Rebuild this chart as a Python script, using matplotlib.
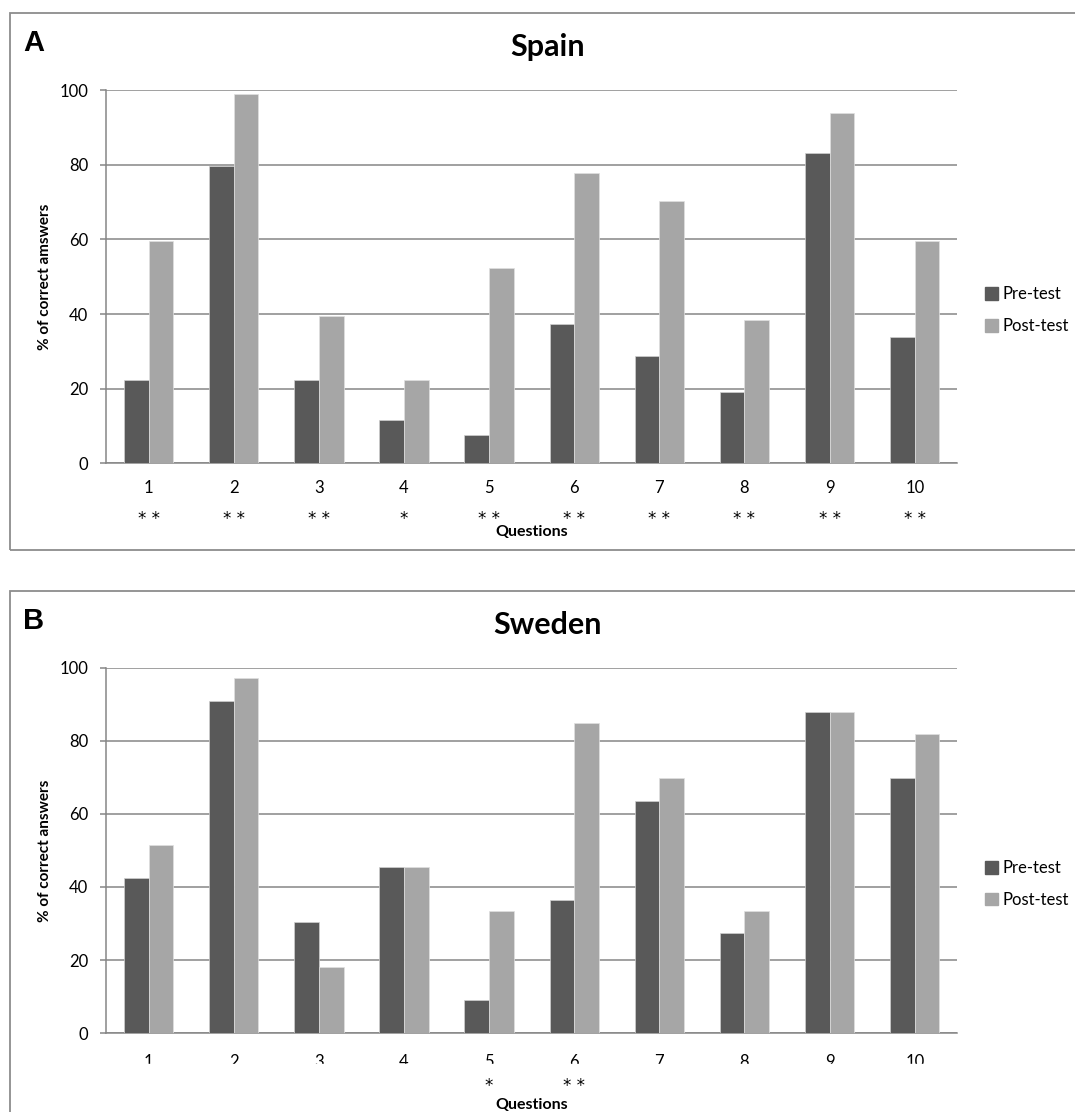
import matplotlib
matplotlib.use('Agg')
import matplotlib.pyplot as plt
from matplotlib.patches import Rectangle, Patch
import numpy as np

# data
questions = ['1', '2', '3', '4', '5', '6', '7', '8', '9', '10']
spain_pre = [22.4, 79.7, 22.4, 11.6, 7.5, 37.2, 28.7, 19.1, 83.0, 33.9]
spain_post = [59.6, 99.0, 39.5, 22.4, 52.2, 77.9, 70.3, 38.4, 93.9, 59.6]
spain_sig = ['**', '**', '**', '*', '**', '**', '**', '**', '**', '**']
sweden_pre = [42.4, 90.9, 30.3, 45.5, 9.1, 36.4, 63.6, 27.3, 87.9, 69.7]
sweden_post = [51.5, 97.0, 18.2, 45.5, 33.3, 84.8, 69.7, 33.3, 87.9, 81.8]
sweden_sig = ['', '', '', '', '*', '**', '', '', '', '']
yticks = [0, 20, 40, 60, 80, 100]

PRE = '#595959'
POST = '#a6a6a6'
GRID = '#868686'
FONT = 'Lato'

W, H = 1075, 1112
fig = plt.figure(figsize=(W / 100, H / 100), dpi=100)


def fx(px):
    return px / W


def fy(py):
    return 1 - py / H


def panel(letter, title, ylabel, pre, post, sig, frame_top, ax_top, ax_bot, lab_off, star_off, q_off):
    # outer frame
    fig.add_artist(Rectangle((fx(10), fy(frame_top + 537)), fx(1085), 537 / H,
                             transform=fig.transFigure, fill=False,
                             edgecolor='#8c8c8c', lw=1.3, zorder=0))
    ax = fig.add_axes([fx(106), fy(ax_bot), fx(957.3) - fx(106), (ax_bot - ax_top) / H])
    x = np.arange(len(questions))
    w = 0.29
    ax.bar(x - w / 2, pre, w, color=PRE, edgecolor='#d0d0d0', lw=0.5, zorder=3)
    ax.bar(x + w / 2, post, w, color=POST, edgecolor='#e0e0e0', lw=0.5, zorder=3)
    ax.set_xlim(-0.5, len(questions) - 0.5)
    ax.set_ylim(0, 100)
    ax.set_yticks(yticks)
    ax.set_yticklabels([str(t) for t in yticks], fontsize=12, family=FONT)
    ax.grid(axis='y', color=GRID, lw=1.1, zorder=0)
    ax.set_axisbelow(True)
    for s in ['top', 'right']:
        ax.spines[s].set_visible(False)
    for s in ['left', 'bottom']:
        ax.spines[s].set_color(GRID)
        ax.spines[s].set_linewidth(1.1)
    ax.tick_params(axis='y', length=4.3, width=1.1, color=GRID, pad=8.5)
    ax.set_xticks([])
    hpx = ax_bot - ax_top
    for i, q in enumerate(questions):
        ax.text(i, -lab_off / hpx, q, transform=ax.get_xaxis_transform(),
                ha='center', va='center', fontsize=12, family=FONT)
        if sig[i]:
            ax.text(i, -star_off / hpx, ' '.join(sig[i]), transform=ax.get_xaxis_transform(),
                    ha='center', va='center', fontsize=12, family='DejaVu Sans')
    ax.text(0.5, -q_off / hpx, 'Questions', transform=ax.transAxes, ha='center',
            va='center', fontsize=11.5, fontweight='bold', family=FONT)
    ax.text(fx(45), (fy(ax_top) + fy(ax_bot)) / 2, ylabel, transform=fig.transFigure,
            rotation=90, ha='center', va='center', fontsize=11, fontweight='bold', family=FONT)
    fig.text(fx(34), fy(frame_top + 30), letter, ha='center', va='center',
             fontsize=21, fontweight='bold', family='Liberation Sans')
    fig.text(fx(548), fy(frame_top + 34), title, ha='center', va='center',
             fontsize=22, fontweight='bold', family=FONT)
    handles = [Patch(color=PRE), Patch(color=POST)]
    fig.legend(handles, ['Pre-test', 'Post-test'], loc='center left',
               bbox_to_anchor=(fx(985), fy((ax_top + ax_bot) / 2 + 33.5)),
               frameon=False, prop={'family': FONT, 'size': 12},
               handlelength=0.8, handleheight=0.8, handletextpad=0.25,
               labelspacing=0.95, borderpad=0, borderaxespad=0)
    return ax


panel('A', 'Spain', '% of correct amswers', spain_pre, spain_post, spain_sig,
      12.7, 90.0, 463.4, 25, 55.5, 68.7)
panel('B', 'Sweden', '% of correct answers', sweden_pre, sweden_post, sweden_sig,
      591.2, 667.5, 1033.3, 29, 53, 71.7)

# the lower tick labels are cut through in the reference
fig.add_artist(Rectangle((fx(100), fy(1074.5)), fx(870), 11 / H,
                         transform=fig.transFigure, color='white', zorder=10))

fig.savefig('out.png', dpi=100)
